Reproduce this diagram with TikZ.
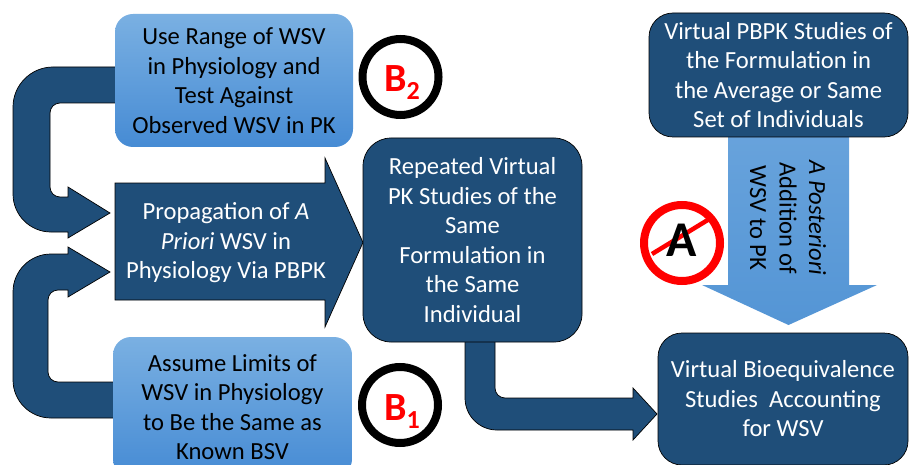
\documentclass[tikz,border=0pt]{standalone}
\usepackage{fontspec}
\setmainfont{Carlito}
\definecolor{dkblue}{RGB}{31,78,121}
\definecolor{ltTop}{RGB}{122,176,226}
\definecolor{ltBot}{RGB}{70,139,212}
\definecolor{arTop}{RGB}{104,163,220}
\definecolor{arBot}{RGB}{84,149,213}
\begin{document}
\begin{tikzpicture}[x=1pt,y=-1pt,
  txt/.style={font=\fontsize{24.6}{29.5}\selectfont, align=center},
  darkbox/.style={txt, draw=black, line width=0.7pt, fill=dkblue, text=white, inner sep=0pt},
  lightbox/.style={txt, top color=ltTop, bottom color=ltBot, text=black, inner sep=0pt, rounded corners=18pt},
  blockarrow/.style={fill=dkblue, draw=black, line width=0.7pt},
  ring/.style={circle, draw=#1, line width=8pt, fill=white, minimum size=76pt, inner sep=0pt}
]
\useasboundingbox (0,0) rectangle (909,465);
\clip (0,0) rectangle (909,465);

% ---- block arrows (behind boxes) ----
% top loop
\fill[blockarrow] (125,67) -- (53,67) .. controls (31,67) and (13,85) .. (13,107)
  -- (13,194) .. controls (13,215) and (30,232) .. (51,232)
  -- (68,232) -- (68,238) -- (110,213) -- (68,187) -- (68,197)
  -- (60,197) .. controls (54.5,197) and (50,192.5) .. (50,187)
  -- (50,113) .. controls (50,107.5) and (54.5,103) .. (60,103)
  -- (125,103) -- cycle;
% bottom loop
\fill[blockarrow] (125,418) -- (51,418) .. controls (30,418) and (13,401) .. (13,380)
  -- (13,292) .. controls (13,271) and (30,254) .. (51,254)
  -- (68,254) -- (68,247) -- (110,272) -- (68,297) -- (68,290)
  -- (58,290) .. controls (52.5,290) and (48,294.5) .. (48,300)
  -- (48,372) .. controls (48,377.5) and (52.5,382) .. (58,382)
  -- (125,382) -- cycle;
% repeated -> bioequivalence
\fill[blockarrow] (465,320) -- (465,398) .. controls (465,415.7) and (479.3,430) .. (497,430)
  -- (633,430) -- (633,440) -- (657,414) -- (633,388) -- (633,398)
  -- (505,398) .. controls (499.5,398) and (495,393.5) .. (495,388)
  -- (495,320) -- cycle;
% propagation arrow
\fill[blockarrow] (115,183) -- (325,183) -- (325,158) -- (363,242.5) -- (325,327) -- (325,300) -- (115,300) -- cycle;
\node[txt, text=white, inner sep=0pt] (prop) at (226,243) {Propagation of \textit{A}\\\textit{Priori} WSV in\\Physiology Via PBPK};
% light blue down arrow
\shade[top color=arTop, bottom color=arBot] (728,130) -- (849,130) -- (849,285) -- (877,285) -- (788.5,325) -- (702,285) -- (728,285) -- cycle;
\node[txt, rotate=-90, text=black, inner sep=0pt] (post) at (788,218) {\textit{A Posteriori}\\Addition of\\WSV to PK};

% ---- boxes ----
\node[lightbox, minimum width=238pt, minimum height=133pt] (usebox) at (234,80.5)
  {Use Range of WSV\\in Physiology and\\Test Against\\Observed WSV in PK};
\node[lightbox, minimum width=239pt, minimum height=140pt] (assume) at (232.5,407)
  {Assume Limits of\\WSV in Physiology\\to Be the Same as\\Known BSV};
\node[darkbox, rounded corners=28pt, minimum width=219pt, minimum height=204pt] (repeated) at (472.5,240)
  {Repeated Virtual\\PK Studies of the\\Same\\Formulation in\\the Same\\Individual};
\node[darkbox, rounded corners=24pt, minimum width=259pt, minimum height=124pt] (pbpk) at (778.5,75)
  {Virtual PBPK Studies of\\the Formulation in\\the Average or Same\\Set of Individuals};
\node[darkbox, rounded corners=24pt, minimum width=250pt, minimum height=132pt] (bioeq) at (783,399)
  {Virtual Bioequivalence\\Studies\ \ Accounting\\for WSV};

% ---- B2 / B1 markers ----
\node[ring=black] (b2ring) at (400.5,77) {};
\node[anchor=base west, inner sep=0pt, text=red, font=\fontsize{40}{40}\selectfont\bfseries] (b2) at (384,92)
  {B\raisebox{-8pt}{\fontsize{26}{26}\selectfont 2}};
\node[ring=black] (b1ring) at (400,405) {};
\node[anchor=base west, inner sep=0pt, text=red, font=\fontsize{40}{40}\selectfont\bfseries] (b1) at (384,420)
  {B\raisebox{-8pt}{\fontsize{26}{26}\selectfont 1}};

% ---- "no A" sign ----
\node[ring=red] (noA) at (682,243) {};
\coordinate (slashA) at (652,254);
\coordinate (slashB) at (711,218);
\draw[red, line width=4.5pt] (slashA) -- (slashB);
\node[inner sep=0pt, font=\fontsize{50}{50}\selectfont\bfseries] (letterA) at (682,240) {A};
\end{tikzpicture}
\end{document}
